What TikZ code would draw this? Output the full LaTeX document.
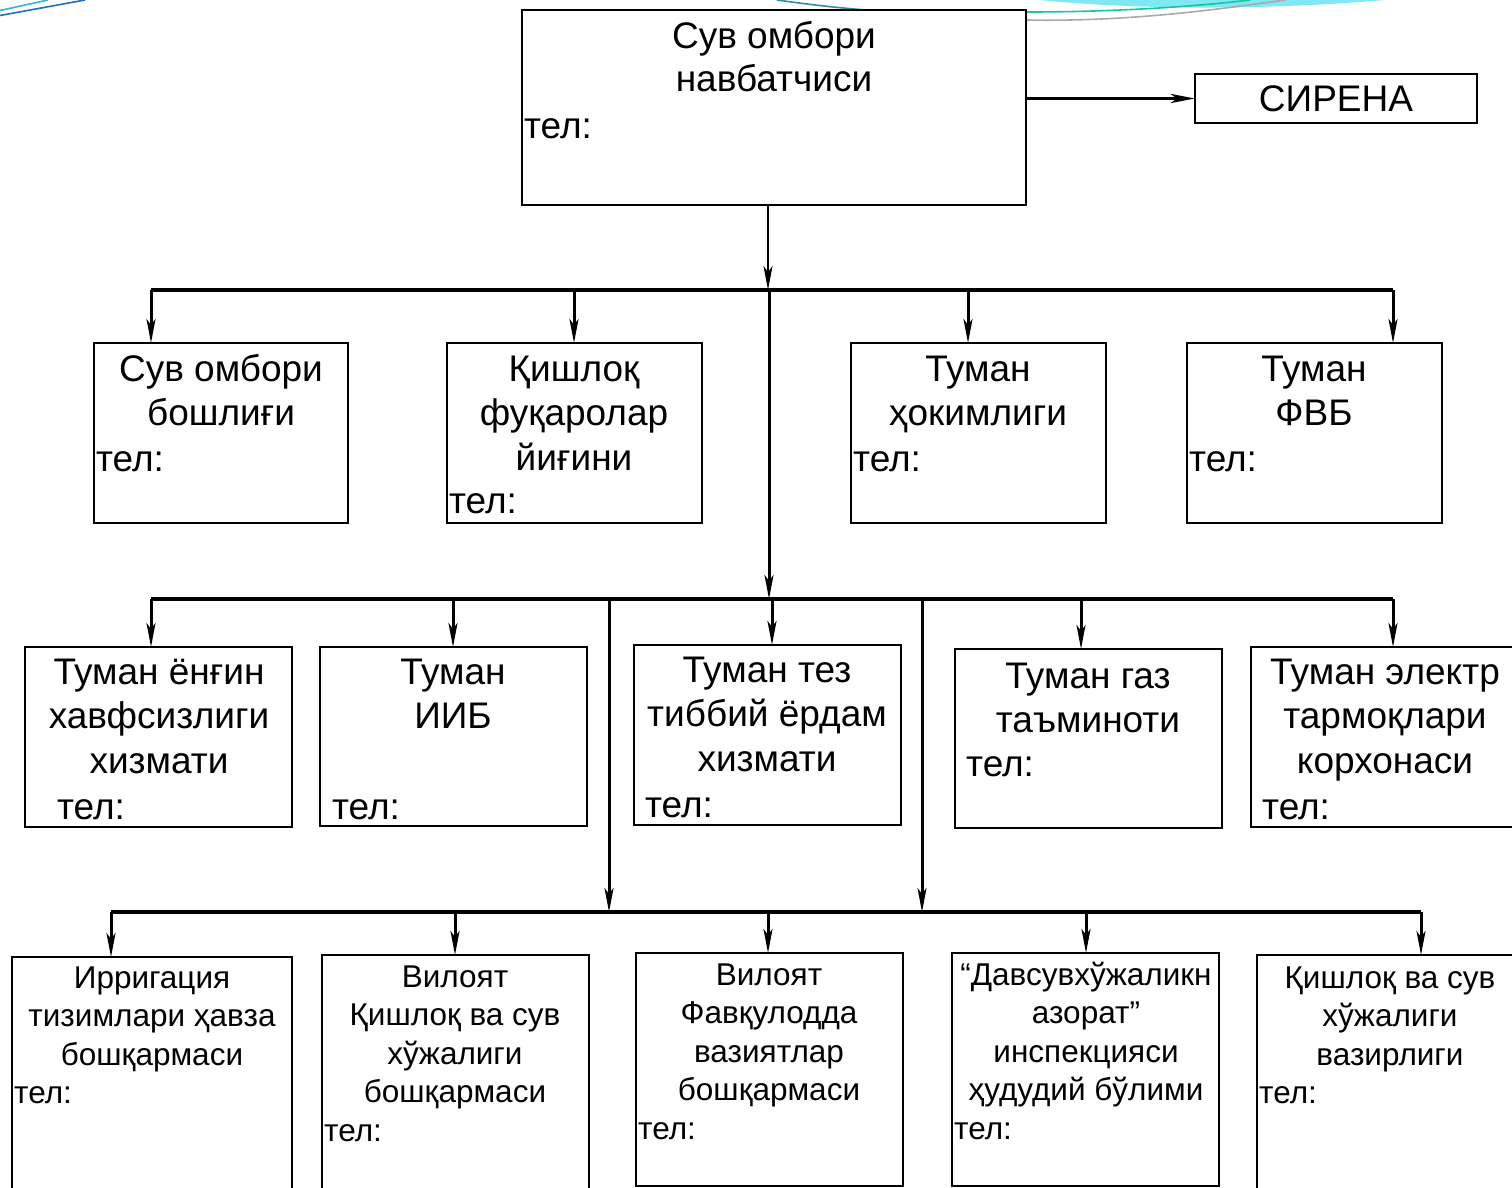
\documentclass[tikz,border=0pt]{standalone}
\usepackage{fontspec}
\setmainfont{Liberation Sans}
\usetikzlibrary{arrows.meta}
\definecolor{lcyan}{HTML}{7FE8F2}
\definecolor{dgreen}{HTML}{13C99A}
\definecolor{lgray}{HTML}{AAAAAA}
\definecolor{scyan}{HTML}{2FB8D0}
\definecolor{sblue}{HTML}{1F6FC0}
\definecolor{steal}{HTML}{2E8FA0}
\tikzset{
 box/.style={draw, line width=2.8pt, fill=white, anchor=north west, inner sep=0pt, outer sep=0pt},
 ln/.style={line width=3.2pt},
 arr/.style={line width=3pt, -{Stealth[length=24pt,width=9pt,inset=6pt]}},
 big/.style={font=\fontsize{37}{44.5}\selectfont, align=center, anchor=base, inner sep=0pt},
 small/.style={font=\fontsize{31.5}{38.5}\selectfont, align=center, anchor=base, inner sep=0pt},
 telb/.style={font=\fontsize{37}{44}\selectfont, anchor=base west, inner sep=0pt},
 tels/.style={font=\fontsize{31.5}{38}\selectfont, anchor=base west, inner sep=0pt},
 deco/.style={line width=1.6pt},
}
\begin{document}
\begin{tikzpicture}[x=1pt,y=-1pt]
\clip (0,0) rectangle (1512,1187);
\fill[white] (0,0) rectangle (1512,1187);
% decorative slide curves
\draw[deco, scyan] (0,10.5) -- (48,0);
\draw[deco, sblue] (0,15.5) -- (85,0);
\fill[lcyan] (1040,0) .. controls (1150,11) and (1280,9) .. (1385,0) -- cycle;
\draw[deco, steal] (777,0) .. controls (820,6) and (850,9) .. (880,11);
\draw[deco, dgreen] (1027,12) .. controls (1120,12) and (1200,6) .. (1250,0);
\draw[deco, lgray] (1027,20) .. controls (1130,22) and (1220,9) .. (1285,0);

% ---------- top ----------
\node[box, minimum width=504pt, minimum height=195pt] (top) at (522,10) {};
\node[big, font=\fontsize{37}{43}\selectfont] (topt) at (774,91) {Сув омбори\\навбатчиси};
\node[telb] (toptel) at (524,138) {тел:};
\node[box, minimum width=282pt, minimum height=49pt, font=\fontsize{37}{44}\selectfont] (sir) at (1195,74) {СИРЕНА};
\draw[arr, line width=3.6pt] (top.east |- sir.west) -- (sir.west);

% ---------- row 2 ----------
\node[box, minimum width=254pt, minimum height=180pt] (A) at (94,343) {};
\node[big] (At) at (221,425.5) {Сув омбори\\бошлиғи};
\node[telb] (Atel) at (96,471) {тел:};
\node[box, minimum width=255pt, minimum height=180pt] (B) at (447,343) {};
\node[big] (Bt) at (574,470) {Қишлоқ\\фуқаролар\\йиғини};
\node[telb] (Btel) at (449,513) {тел:};
\node[box, minimum width=255pt, minimum height=180pt] (C) at (851,343) {};
\node[big] (Ct) at (978,425.5) {Туман\\ҳокимлиги};
\node[telb] (Ctel) at (853,471) {тел:};
\node[box, minimum width=255pt, minimum height=180pt] (D) at (1187,343) {};
\node[big] (Dt) at (1314,425.5) {Туман\\ФВБ};
\node[telb] (Dtel) at (1189,471) {тел:};

% ---------- row 3 ----------
\node[box, minimum width=267pt, minimum height=180pt] (E) at (25,647) {};
\node[big] (Et) at (159,773) {Туман ёнғин\\хавфсизлиги\\хизмати};
\node[telb] (Etel) at (57,819) {тел:};
\node[box, minimum width=267pt, minimum height=179pt] (F) at (320,647) {};
\node[big] (Ft) at (453,728.5) {Туман\\ИИБ};
\node[telb] (Ftel) at (332,819) {тел:};
\node[box, minimum width=267pt, minimum height=180pt] (G) at (634,645) {};
\node[big] (Gt) at (767,771) {Туман тез\\тиббий ёрдам\\хизмати};
\node[telb] (Gtel) at (645,817) {тел:};
\node[box, minimum width=267pt, minimum height=179pt] (H) at (955,649) {};
\node[big] (Ht) at (1088,732.5) {Туман газ\\таъминоти};
\node[telb] (Htel) at (966,776) {тел:};
\node[box, minimum width=280pt, minimum height=180pt] (I) at (1251,647) {};
\node[big] (It) at (1385,773) {Туман электр\\тармоқлари\\корхонаси};
\node[telb] (Itel) at (1262,819) {тел:};

% ---------- row 4 ----------
\node[box, minimum width=280pt, minimum height=260pt] (J) at (12,957) {};
\node[small] (Jt) at (152,1065) {Ирригация\\тизимлари ҳавза\\бошқармаси};
\node[tels] (Jtel) at (14,1103) {тел:};
\node[box, minimum width=267pt, minimum height=260pt] (K) at (322,955) {};
\node[small] (Kt) at (455,1102.5) {Вилоят\\Қишлоқ ва сув\\хўжалиги\\бошқармаси};
\node[tels] (Ktel) at (324,1141) {тел:};
\node[box, minimum width=267pt, minimum height=233pt] (L) at (636,953) {};
\node[small] (Lt) at (769,1100.5) {Вилоят\\Фавқулодда\\вазиятлар\\бошқармаси};
\node[tels] (Ltel) at (638,1139) {тел:};
\node[box, minimum width=267pt, minimum height=233pt] (M) at (952,953) {};
\node[small] (Mt) at (1086,1100.5) {“Давсувхўжаликн\\азорат”\\инспекцияси\\ҳудудий бўлими};
\node[tels] (Mtel) at (954,1139) {тел:};
\node[box, minimum width=280pt, minimum height=260pt] (N) at (1257,955) {};
\node[small] (Nt) at (1390,1065) {Қишлоқ ва сув\\хўжалиги\\вазирлиги};
\node[tels] (Ntel) at (1259,1103) {тел:};

% ---------- buses ----------
\coordinate (b1c) at (768,290);
\coordinate (b1L) at (151,290);
\coordinate (b1R) at (1393,290);
\coordinate (b1b) at (574,290);
\coordinate (b1d) at (968,290);
\coordinate (b2c) at (769,599);
\coordinate (b2L) at (151,599);
\coordinate (b2R) at (1393,599);
\coordinate (b2f) at (453,599);
\coordinate (b2g) at (772,599);
\coordinate (b2h) at (1081,599);
\coordinate (v1) at (609,599);
\coordinate (v2) at (922,599);
\coordinate (b3L) at (111,912);
\coordinate (b3R) at (1421,912);
\coordinate (b3k) at (455,912);
\coordinate (b3l) at (768,912);
\coordinate (b3m) at (1086,912);
\coordinate (b3a) at (609,912);
\coordinate (b3b) at (922,912);

\draw[arr, line width=2.4pt] (b1c |- top.south) -- (b1c);
\draw[ln] (b1L) -- (b1R);
\draw[arr] (b1L) -- (b1L |- A.north);
\draw[arr] (b1b) -- (b1b |- B.north);
\draw[arr] (b1d) -- (b1d |- C.north);
\draw[arr] (b1R) -- (b1R |- D.north);
\draw[arr] (b2c |- b1c) -- (b2c);

\draw[ln] (b2L) -- (b2R);
\draw[arr] (b2L) -- (b2L |- E.north);
\draw[arr] (b2f) -- (b2f |- F.north);
\draw[arr] (b2g) -- (b2g |- G.north);
\draw[arr] (b2h) -- (b2h |- H.north);
\draw[arr] (b2R) -- (b2R |- I.north);
\draw[arr] (v1) -- (b3a);
\draw[arr] (v2) -- (b3b);

\draw[ln] (b3L) -- (b3R);
\draw[arr] (b3L) -- (b3L |- J.north);
\draw[arr] (b3k) -- (b3k |- K.north);
\draw[arr] (b3l) -- (b3l |- L.north);
\draw[arr] (b3m) -- (b3m |- M.north);
\draw[arr] (b3R) -- (b3R |- N.north);
\end{tikzpicture}
\end{document}
